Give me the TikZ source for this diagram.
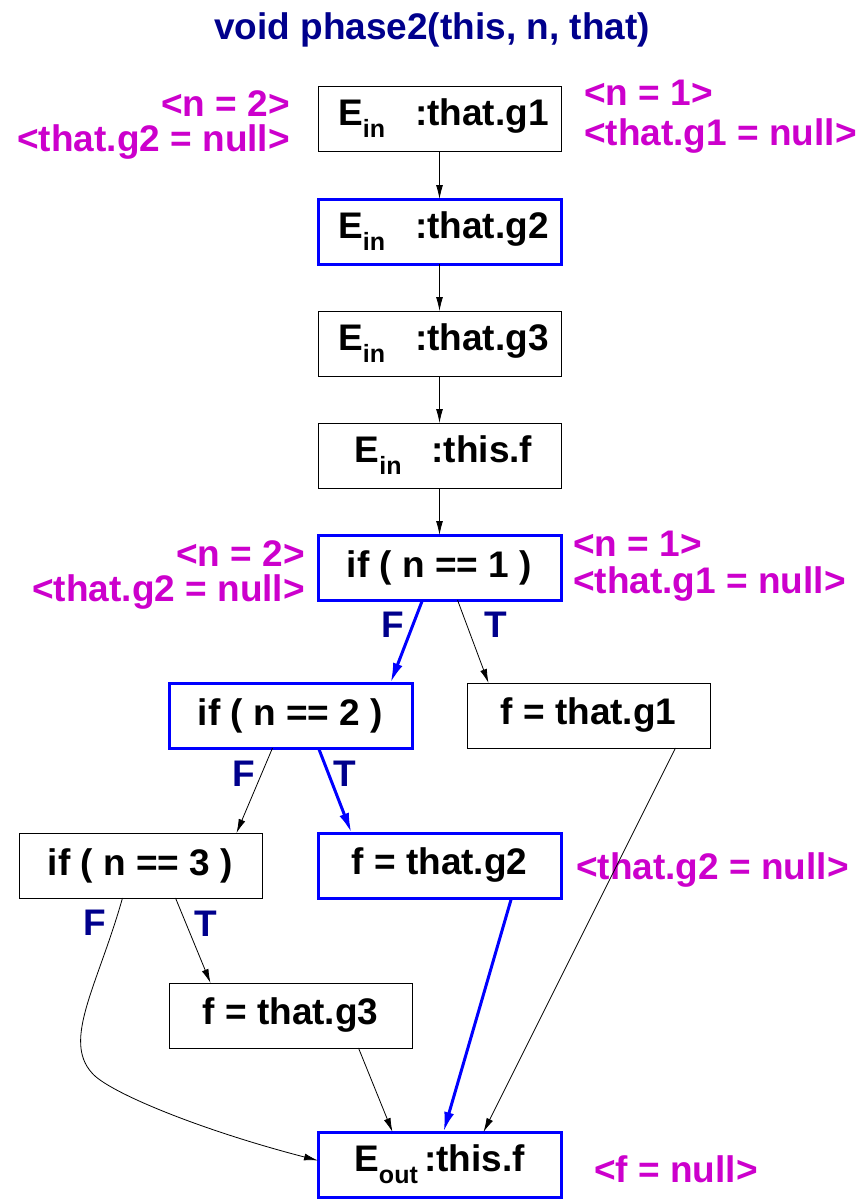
\documentclass[tikz,border=0pt]{standalone}
\usepackage{fontspec}
\setmainfont{Liberation Sans}
\usetikzlibrary{arrows.meta,positioning}
\definecolor{navy}{RGB}{0,0,140}
\definecolor{hotblue}{RGB}{0,0,255}
\definecolor{factpink}{RGB}{204,0,204}
\newcommand{\subidx}[1]{\raisebox{-12pt}{\fontsize{25}{25}\selectfont #1}}

\begin{document}
\begin{tikzpicture}[x=1pt, y=-1pt, every node/.style={font=\fontsize{37}{42}\selectfont\bfseries},
	box/.style={draw=black, line width=1pt, rectangle, minimum width=243pt, minimum height=65pt, inner sep=0pt, outer sep=0pt},
	hot/.style={box, draw=hotblue, line width=3pt},
	flow/.style={-{Latex[length=14pt,width=7pt]}, line width=0.8pt},
	hotflow/.style={-{Latex[length=20pt,width=10pt]}, draw=hotblue, line width=3pt},
	fact/.style={text=factpink, inner sep=0pt, font=\fontsize{37}{35}\selectfont\bfseries},
	branch/.style={text=navy, inner sep=0pt}]
					\useasboundingbox (0,0) rectangle (862,1199);
					\node[text=navy] (title) at (432,30) {void phase2(this, n, that)};
					\node[box] (e1) at (439.5,118.5) {\hspace{8pt}E\subidx{in}\hspace{30pt}:that.g1};
					\node[hot, below=48pt of e1] (e2) {\hspace{8pt}E\subidx{in}\hspace{30pt}:that.g2};
					\node[box, below=47pt of e2] (e3) {\hspace{8pt}E\subidx{in}\hspace{30pt}:that.g3};
					\node[box, below=47pt of e3] (e4) {\hspace{8pt}E\subidx{in}\hspace{30pt}:this.f};
					\node[hot, below=47pt of e4] (c1) {if ( n == 1 )};
					\node[hot, below=83pt of c1, xshift=-149pt] (c2) {if ( n == 2 )};
					\node[box, right=55pt of c2] (a1) {f = that.g1};
					\node[box, below=85pt of c2, xshift=-150pt] (c3) {if ( n == 3 )};
					\node[hot, right=56pt of c3] (a2) {f = that.g2};
					\node[box, below=85pt of c3, xshift=150pt] (a3) {f = that.g3};
					\node[hot, below=84pt of a3, xshift=149pt] (out) {E\subidx{out}\,:this.f};
					\node[fact, left=28pt of e1, align=right, yshift=-7pt] (e1l) {<n = 2>\\<that.g2 = null>};
					\node[fact, right=23pt of e1, align=left, yshift=2pt] (e1r) {<n = 1>\\[5pt]<that.g1 = null>};
					\node[fact, left=13pt of c1, align=right, yshift=-7pt] (c1l) {<n = 2>\\<that.g2 = null>};
					\node[fact, right=12pt of c1, align=left, yshift=1pt] (c1r) {<n = 1>\\[2pt]<that.g1 = null>};
					\node[fact, right=15pt of a2, yshift=-5pt] (a2r) {<that.g2 = null>};
					\node[fact, right=33pt of out, yshift=-5pt] (outr) {<f = null>};
					\draw[flow] (e1) -- (e2);
					\draw[flow] (e2) -- (e3);
					\draw[flow] (e3) -- (e4);
					\draw[flow] (e4) -- (c1);
					\draw[hotflow] ([xshift=-17pt]c1.south) -- ([xshift=100pt]c2.north) node[branch, pos=0.3, left=7pt] {F};
					\draw[flow] ([xshift=18pt]c1.south) -- ([xshift=-100pt]a1.north) node[branch, pos=0.3, right=17pt] {T};
					\draw[flow] ([xshift=-18pt]c2.south) -- ([xshift=96pt]c3.north) node[branch, pos=0.3, left=6pt] {F};
					\draw[hotflow] ([xshift=28pt]c2.south) -- ([xshift=-88pt]a2.north) node[branch, pos=0.3, right=4pt] {T};
					\draw[flow] ([xshift=-18pt]c3.south) .. controls (98,985) and (62,1040) .. (92,1073) node[branch, pos=0.1, left=8pt] {F} .. controls (108,1092) and (200,1130) .. ([yshift=4pt]out.west);
					\draw[flow] ([xshift=35pt]c3.south) -- ([xshift=-80pt]a3.north) node[branch, pos=0.3, right=8pt] {T};
					\draw[flow] ([xshift=68pt]a3.south) -- ([xshift=-47pt]out.north);
					\draw[hotflow] ([xshift=72pt]a2.south) -- ([xshift=4pt]out.north);
					\draw[flow] ([xshift=87pt]a1.south) -- ([xshift=44pt]out.north);
				\end{tikzpicture}
\end{document}
